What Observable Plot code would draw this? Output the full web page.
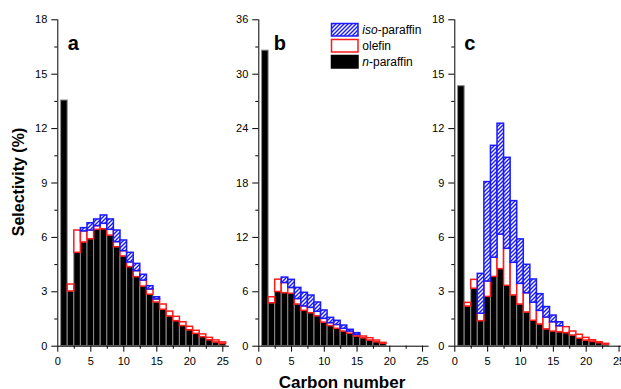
<!DOCTYPE html>
<html>
<head>
<meta charset="utf-8">
<script src="https://cdn.jsdelivr.net/npm/d3@7"></script>
<script src="https://cdn.jsdelivr.net/npm/@observablehq/plot@0.6"></script>
<style>
  body { margin: 0; background: #fff; }
  #chart { position: relative; width: 621px; height: 389px; overflow: hidden; background: #fff;
           font-family: "Liberation Sans", Arial, sans-serif; }
</style>
</head>
<body>
<div id="chart"></div>
<script>
// ---------- DATA ----------
// Panel a
const carbonA   = [1,2,3,4,5,6,7,8,9,10,11,12,13,14,15,16,17,18,19,20,21,22,23,24,25];
const nParaffinA = [13.55,3.02,5.15,5.72,5.90,6.42,6.45,6.10,5.46,4.95,4.36,3.81,3.29,2.84,2.41,2.01,1.64,1.38,1.11,0.88,0.68,0.50,0.33,0.21,0.12];
const olefinA    = [0,0.38,1.23,0.61,0.48,0.20,0.30,0.32,0.28,0.29,0.26,0.33,0.33,0.29,0.17,0.29,0.27,0.24,0.21,0.19,0.17,0.15,0.13,0.11,0.09];
const isoParaffinA = [0,0,0,0.18,0.40,0.37,0.46,0.57,0.64,0.59,0.53,0.40,0.32,0.18,0.12,0,0,0,0,0,0,0,0,0,0];
// Panel b
const carbonB   = [1,2,3,4,5,6,7,8,9,10,11,12,13,14,15,16,17,18,19];
const nParaffinB = [32.6,4.74,5.98,5.85,5.78,4.60,3.90,3.64,3.30,2.60,2.22,1.92,1.62,1.37,1.07,0.88,0.63,0.44,0.26];
const olefinB    = [0,0.66,1.36,1.12,0.64,0.60,0.49,0.59,0.50,0.42,0.32,0.42,0.30,0.25,0.18,0.19,0.25,0.19,0.11];
const isoParaffinB = [0,0,0,0.60,0.90,1.23,1.50,1.36,1.02,0.92,0.59,0.46,0.36,0.19,0.19,0,0,0,0];
// Panel c
const carbonC   = [1,2,3,4,5,6,7,8,9,10,11,12,13,14,15,16,17,18,19,20,21,22,23];
const nParaffinC = [14.34,2.19,3.17,1.38,2.72,3.82,4.25,3.33,2.80,2.30,1.86,1.40,1.20,0.93,0.81,0.77,0.72,0.59,0.41,0.31,0.24,0.17,0.09];
const olefinC    = [0,0.20,0.49,0.41,0.85,1.06,1.90,2.04,1.80,1.14,1.06,1.00,0.75,0.65,0.51,0.33,0.33,0.22,0.22,0.15,0.09,0.05,0.04];
const isoParaffinC = [0,0,0,2.20,5.48,6.17,6.12,5.02,3.40,2.45,1.57,1.28,0.92,0.58,0.37,0.22,0,0,0,0,0,0,0];

const xTicks = [0,5,10,15,20,25];
const xMinorTicks = [2.5,7.5,12.5,17.5,22.5];
const yTicks18 = [0,3,6,9,12,15,18];
const yMinor18 = [1.5,4.5,7.5,10.5,13.5,16.5];
const yTicks36 = [0,6,12,18,24,30,36];
const yMinor36 = [3,9,15,21,27,33];
const panelLabels = ["a","b","c"];
const legendLabels = [["iso","-paraffin"],["","olefin"],["n","-paraffin"]];
const xTitle = "Carbon number";
const yTitle = "Selectivity (%)";

const FONT = '"Liberation Sans", Arial, sans-serif';
const chart = document.getElementById("chart");

function hatchDefs(svgNode, id) {
  d3.select(svgNode).insert("defs", ":first-child").html(
    `<pattern id="${id}" patternUnits="userSpaceOnUse" width="4" height="4">
       <rect width="4" height="4" fill="white"/>
       <path d="M-1,1 l2,-2 M0,4 l4,-4 M3,5 l2,-2" stroke="#1a1aff" stroke-width="1.4"/>
     </pattern>`);
}

function panel({carbon, nPar, olef, iso, yMax, yT, yM, label, left, marginLeft, ppu, labelDx, id}) {
  const rows = carbon.map((c, i) => ({c, n: nPar[i], o: olef[i], s: iso[i]}));
  const width = 240;
  const rangeEnd = marginLeft + 26 * ppu;
  const x1 = d => d.c - 0.5, x2 = d => d.c + 0.5;
  const svg = Plot.plot({
    width, height: 389,
    marginLeft, marginRight: width - rangeEnd, marginTop: 19.3, marginBottom: 43.3,
    style: {background: "transparent", fontFamily: FONT, fontSize: "11px", color: "black",
            position: "absolute", left: left + "px", top: "0px"},
    x: {domain: [0, 26]},
    y: {domain: [0, yMax]},
    marks: [
      Plot.rect(rows, {x1, x2, y1: 0, y2: "n", fill: "black", stroke: "#8c8c8c", strokeWidth: 1}),
      Plot.rect(rows.filter(d => d.o > 0), {x1, x2, y1: d => d.n, y2: d => d.n + d.o,
        fill: "white", stroke: "#ff1a1a", strokeWidth: 1.5}),
      Plot.rect(rows.filter(d => d.s > 0), {x1, x2, y1: d => d.n + d.o, y2: d => d.n + d.o + d.s,
        fill: `url(#${id})`, stroke: "#1a1aff", strokeWidth: 1.5}),
      Plot.ruleX([0], {stroke: "black"}),
      Plot.ruleY([0], {stroke: "black"}),
      Plot.axisY({ticks: yT, tickSize: 6, tickPadding: 4.5, label: null, fontSize: 11}),
      Plot.axisY({ticks: yM, tickSize: 3, text: null, label: null}),
      Plot.axisX({ticks: xTicks, tickSize: 6, tickPadding: 5, label: null, fontSize: 11}),
      Plot.axisX({ticks: xMinorTicks, tickSize: 3, text: null, label: null}),
      Plot.text([label], {frameAnchor: "top-left", dx: labelDx, dy: 16, fontSize: 20,
        fontWeight: "bold", fill: "black", lineAnchor: "top"})
    ]
  });
  hatchDefs(svg, id);
  chart.appendChild(svg);
}

panel({carbon: carbonA, nPar: nParaffinA, olef: olefinA, iso: isoParaffinA, yMax: 18, yT: yTicks18, yM: yMinor18,
       label: panelLabels[0], left: 0, marginLeft: 57.3, ppu: 6.6, labelDx: 10, id: "hatchA"});
panel({carbon: carbonB, nPar: nParaffinB, olef: olefinB, iso: isoParaffinB, yMax: 36, yT: yTicks36, yM: yMinor36,
       label: panelLabels[1], left: 200, marginLeft: 58.3, ppu: 6.55, labelDx: 15, id: "hatchB"});
panel({carbon: carbonC, nPar: nParaffinC, olef: olefinC, iso: isoParaffinC, yMax: 18, yT: yTicks18, yM: yMinor18,
       label: panelLabels[2], left: 400, marginLeft: 54.3, ppu: 6.57, labelDx: 9.5, id: "hatchC"});

// Overlay: titles and legend
const ov = d3.select(chart).append("svg")
  .attr("width", 621).attr("height", 389)
  .style("position", "absolute").style("left", "0px").style("top", "0px")
  .style("font-family", FONT);
ov.append("defs").html(
  `<pattern id="hatchL" patternUnits="userSpaceOnUse" width="4" height="4">
     <rect width="4" height="4" fill="white"/>
     <path d="M-1,1 l2,-2 M0,4 l4,-4 M3,5 l2,-2" stroke="#1a1aff" stroke-width="1.4"/>
   </pattern>`);

ov.append("text").text(xTitle)
  .attr("x", 342).attr("y", 388).attr("text-anchor", "middle")
  .attr("font-size", 17).attr("font-weight", "bold").attr("fill", "black");
ov.append("text").text(yTitle)
  .attr("transform", "translate(24,182) rotate(-90)").attr("text-anchor", "middle")
  .attr("font-size", 16).attr("font-weight", "bold").attr("fill", "black");

const swFill = ["url(#hatchL)", "white", "black"];
const swStroke = ["#1a1aff", "#ff1a1a", "black"];
legendLabels.forEach((lab, i) => {
  const y0 = 23.5 + i * 16;
  ov.append("rect").attr("x", 331.5).attr("y", y0).attr("width", 26.5).attr("height", 12.5)
    .attr("fill", swFill[i]).attr("stroke", swStroke[i]).attr("stroke-width", 1.5);
  const t = ov.append("text").attr("x", 362.3).attr("y", y0 + 10.8)
    .attr("font-size", 12).attr("fill", "black");
  if (lab[0]) t.append("tspan").attr("font-style", "italic").text(lab[0]);
  t.append("tspan").text(lab[1]);
});
</script>
</body>
</html>
